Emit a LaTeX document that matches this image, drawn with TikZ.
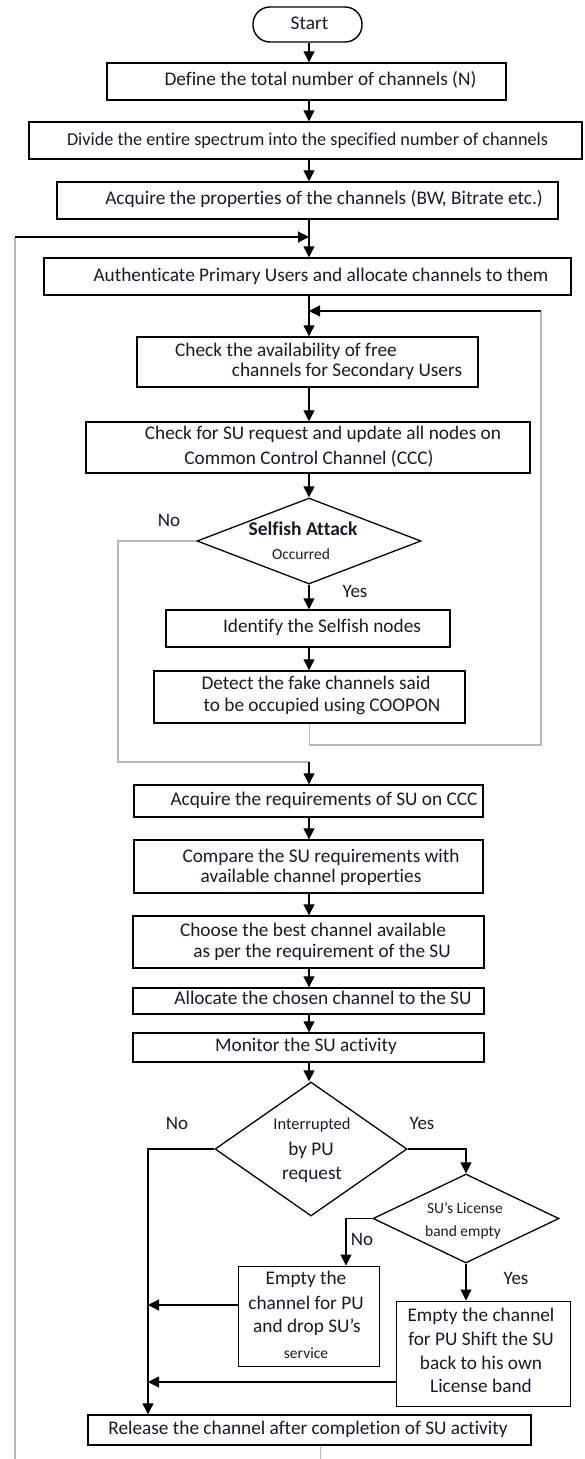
\documentclass[tikz,border=0pt]{standalone}
\usepackage{fontspec}
\setmainfont{Carlito}[Ligatures=NoCommon]
\usetikzlibrary{shapes.geometric,arrows.meta}
\definecolor{txt}{rgb}{0.10,0.10,0.18}
\definecolor{gline}{gray}{0.72}
\begin{document}
\begin{tikzpicture}[x=1pt,y=-1pt,
  box/.style={draw,line width=1.4pt,inner sep=0pt},
  thinbox/.style={draw,line width=1pt,inner sep=0pt},
  dia/.style={draw,diamond,line width=1.3pt,inner sep=0pt},
  tx/.style={text=txt,inner sep=0pt,font=\fontsize{19.3}{22}\selectfont,text height=13.5pt,text depth=4pt},
  sm/.style={text=txt,inner sep=0pt,font=\fontsize{15.5}{18}\selectfont,text height=11pt,text depth=3pt},
  arr/.style={line width=1.1pt,-{Triangle[width=11pt,length=11pt]}},
  gl/.style={line width=1.1pt,draw=gline},
  lab/.style={text=txt,inner sep=0pt,font=\fontsize{19}{22}\selectfont,text height=13.5pt,text depth=4pt}
]
\useasboundingbox (0,0) rectangle (584,1459);
\coordinate (ax) at (309,0);

% ---------- boxes ----------
\node[box,rounded corners=17pt,minimum width=109pt,minimum height=35pt] (start) at (307.5,24.5) {};
\node[box,minimum width=399pt,minimum height=37pt] (define) at (306.5,81.5) {};
\node[box,minimum width=553pt,minimum height=37pt] (divide) at (305.5,140.5) {};
\node[box,minimum width=501pt,minimum height=37pt] (props) at (307.5,200.5) {};
\node[box,minimum width=527pt,minimum height=37pt] (auth) at (307.5,276.5) {};
\node[box,minimum width=341pt,minimum height=50pt] (avail) at (307.5,362) {};
\node[box,minimum width=444pt,minimum height=51pt] (sureq) at (308,447.5) {};
\node[dia,minimum width=224pt,minimum height=86pt] (d1) at (309,541) {};
\node[box,minimum width=284pt,minimum height=37pt] (ident) at (308,628.5) {};
\node[box,minimum width=311pt,minimum height=52pt] (detect) at (309.5,697) {};
\node[box,minimum width=349pt,minimum height=32pt] (acqreq) at (308.5,801) {};
\node[box,minimum width=349pt,minimum height=53pt] (compare) at (308.5,866.5) {};
\node[box,minimum width=351pt,minimum height=52pt] (choose) at (308.5,942) {};
\node[box,minimum width=351pt,minimum height=26pt] (alloc) at (308.5,1001) {};
\node[box,minimum width=351pt,minimum height=29pt] (monitor) at (308.5,1047.5) {};
\node[dia,minimum width=192pt,minimum height=134pt] (d2) at (311,1149) {};
\node[dia,minimum width=186pt,minimum height=89pt] (d3) at (466,1218.5) {};
\node[thinbox,minimum width=141pt,minimum height=100pt] (e1) at (308.5,1316) {};
\node[thinbox,minimum width=174pt,minimum height=105pt] (e2) at (483,1353.5) {};
\node[box,minimum width=443pt,minimum height=30pt] (release) at (309.5,1430) {};

% ---------- texts ----------
\node[tx] (t0) at (309.5,25) {Start};
\node[tx] (t1) at (320.5,81) {Define the total number of channels (N)};
\node[tx,font=\fontsize{18.2}{22}\selectfont] (t2) at (307.5,141) {Divide the entire spectrum into the specified number of channels};
\node[tx] (t3) at (324,200) {Acquire the properties of the channels (BW, Bitrate etc.)};
\node[tx] (t4) at (321,277) {Authenticate Primary Users and allocate channels to them};
\node[tx] (t5a) at (286,352) {Check the availability of free};
\node[tx] (t5b) at (347,372) {channels for Secondary Users};
\node[tx] (t6a) at (323,435) {Check for SU request and update all nodes on};
\node[tx] (t6b) at (309,460) {Common Control Channel (CCC)};
\node[tx,font=\bfseries\fontsize{19.5}{22}\selectfont] (t7a) at (303,531) {Selfish Attack};
\node[sm] (t7b) at (301,555) {Occurred};
\node[tx] (t8) at (322,628) {Identify the Selfish nodes};
\node[tx] (t9a) at (316,685) {Detect the fake channels said};
\node[tx] (t9b) at (322,707) {to be occupied using COOPON};
\node[tx] (t10) at (324,801) {Acquire the requirements of SU on CCC};
\node[tx] (t11a) at (321,858) {Compare the SU requirements with};
\node[tx] (t11b) at (311,878) {available channel properties};
\node[tx] (t12a) at (313,932) {Choose the best channel available};
\node[tx] (t12b) at (322,953) {as per the requirement of the SU};
\node[tx] (t13) at (323,1000) {Allocate the chosen channel to the SU};
\node[tx] (t14) at (306,1047) {Monitor the SU activity};
\node[tx,font=\fontsize{16.5}{19}\selectfont] (t15a) at (312,1125) {Interrupted};
\node[tx] (t15b) at (311,1151) {by PU};
\node[tx] (t15c) at (312,1175) {request};
\node[sm] (t16a) at (465,1209) {SU’s License};
\node[sm] (t16b) at (463,1232) {band empty};
\node[tx] (t17a) at (306,1280) {Empty the};
\node[tx] (t17b) at (306,1305) {channel for PU};
\node[tx] (t17c) at (307,1328) {and drop SU’s};
\node[sm] (t17d) at (306,1354) {service};
\node[tx] (t18a) at (481,1317) {Empty the channel};
\node[tx] (t18b) at (481,1341) {for PU Shift the SU};
\node[tx] (t18c) at (481,1365) {back to his own};
\node[tx] (t18d) at (481,1388) {License band};
\node[tx] (t19) at (308,1430) {Release the channel after completion of SU activity};

% ---------- branch labels ----------
\node[lab] (no1) at (169,522) {No};
\node[lab] (yes1) at (355,593) {Yes};
\node[lab] (no2) at (177,1125) {No};
\node[lab] (yes2) at (422,1125) {Yes};
\node[lab] (no3) at (362,1241) {No};
\node[lab] (yes3) at (516,1280) {Yes};

% ---------- helper coordinates ----------
\coordinate (lb) at (15,1459);
\coordinate (lt) at (15,237);
\coordinate (rb) at (541,745);
\coordinate (rt) at (541,311);
\coordinate (nl) at (118,762);
\coordinate (n2) at (148,1149);
\coordinate (n3) at (346,1218.5);
\coordinate (rel) at (320,1459);
\coordinate (e1o) at ([yshift=11pt]e1.west);
\coordinate (e2o) at ([yshift=-28.5pt]e2.west);

% ---------- connectors ----------
\draw[arr] (ax |- start.south) -- (ax |- define.north);
\draw[arr] (ax |- define.south) -- (ax |- divide.north);
\draw[arr] (ax |- divide.south) -- (ax |- props.north);
\draw[arr] (ax |- props.south) -- (ax |- auth.north);
\draw[gl] (lb) -- (lt);
\draw[arr] (lt) -- (ax |- lt);
\draw[arr] (ax |- auth.south) -- (ax |- avail.north);
\draw[arr] (ax |- avail.south) -- (ax |- sureq.north);
\draw[arr] (ax |- sureq.south) -- (d1.north);
\draw[arr] (d1.south) -- (ax |- ident.north);
\draw[arr] (ax |- ident.south) -- (ax |- detect.north);
\draw[gl] (detect.south) |- (rb) -- (rt);
\draw[arr] (rt) -- (ax |- rt);
\draw[gl] (d1.west) -| (nl) -- (ax |- nl);
\draw[arr] (ax |- nl) -- (ax |- acqreq.north);
\draw[arr] (ax |- acqreq.south) -- (ax |- compare.north);
\draw[arr] (ax |- compare.south) -- (ax |- choose.north);
\draw[arr] (ax |- choose.south) -- (ax |- alloc.north);
\draw[arr] (ax |- alloc.south) -- (ax |- monitor.north);
\draw[arr] (ax |- monitor.south) -- (ax |- d2.north);
\draw[arr] (d2.west) -- (n2) -- (n2 |- release.north);
\draw[arr] (d2.east) -| (d3.north);
\draw[arr] (d3.west) -- (n3) -- (n3 |- e1.north);
\draw[arr] (d3.south) -- (d3.south |- e2.north);
\draw[arr] (e1o) -- (n2 |- e1o);
\draw[arr] (e2o) -- (n2 |- e2o);
\draw[gl,line width=0.8pt] (rel |- release.south) -- (rel);
\end{tikzpicture}
\end{document}
